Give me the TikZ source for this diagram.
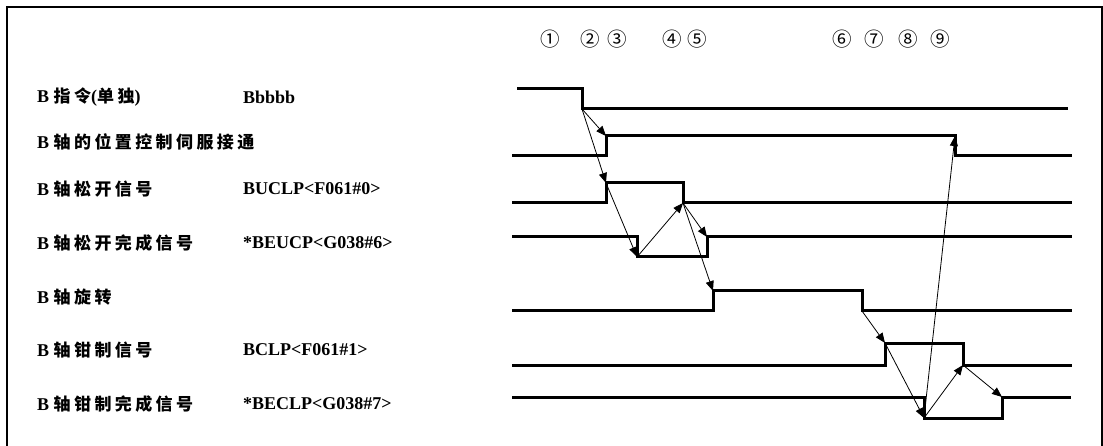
\documentclass[tikz,border=0pt]{standalone}
\usepackage{fontspec}
\setmainfont{Liberation Serif}
\newfontfamily\cjk[LetterSpace=20]{Noto Sans CJK SC}
\newfontfamily\circfont{Noto Sans CJK SC}
\usetikzlibrary{arrows.meta}
\tikzset{
  frame/.style={line width=1.5pt},
  sig/.style={line width=3pt, line join=miter},
  cause/.style={line width=0.8pt, -{Triangle[length=10pt,width=8pt]}},
  lbl/.style={anchor=west, inner sep=0pt, font=\fontsize{18}{20}\selectfont\bfseries},
  num/.style={inner sep=0pt, font=\fontsize{19.5}{22}\selectfont\circfont},
}
\newcommand\cj[1]{{\fontsize{17}{19}\selectfont\cjk #1}}
\begin{document}
\begin{tikzpicture}[x=1pt,y=-1pt]
\useasboundingbox (0,0) rectangle (1103,446);
\draw[frame] (7,460) -- (7,7) -- (1102,7) -- (1102,460);

% circled step numbers
\node[num] (n1) at (550,39) {①};
\node[num] (n2) at (590,39) {②};
\node[num] (n3) at (617,39) {③};
\node[num] (n4) at (672,39) {④};
\node[num] (n5) at (697,39) {⑤};
\node[num] (n6) at (842,39) {⑥};
\node[num] (n7) at (874,39) {⑦};
\node[num] (n8) at (908,39) {⑧};
\node[num] (n9) at (940,39) {⑨};

% labels
\node[lbl] (l1) at (37,97) {B \cj{指令}(\cj{单独})};
\node[lbl] (c1) at (243,97) {Bbbbb};
\node[lbl] (l2) at (37,142) {B \cj{轴的位置控制伺服接通}};
\node[lbl] (l3) at (37,189) {B \cj{轴松开信号}};
\node[lbl] (c3) at (243,189) {BUCLP<F061\#0>};
\node[lbl] (l4) at (37,243) {B \cj{轴松开完成信号}};
\node[lbl] (c4) at (243,243) {*BEUCP<G038\#6>};
\node[lbl] (l5) at (37,297) {B \cj{轴旋转}};
\node[lbl] (l6) at (37,350) {B \cj{轴钳制信号}};
\node[lbl] (c6) at (243,350) {BCLP<F061\#1>};
\node[lbl] (l7) at (37,404) {B \cj{轴钳制完成信号}};
\node[lbl] (c7) at (243,404) {*BECLP<G038\#7>};

% edge coordinates
\coordinate (r1f) at (582,109);
\coordinate (r2r) at (606,136);
\coordinate (r2f) at (955,136);
\coordinate (r3r) at (606,183);
\coordinate (r3f) at (683,203);
\coordinate (r4f) at (637,257);
\coordinate (r4r) at (707,237);
\coordinate (r5r) at (713,291);
\coordinate (r5f) at (862,311);
\coordinate (r6r) at (885,343);
\coordinate (r6f) at (963,365);
\coordinate (r7f) at (924,418);
\coordinate (r7r) at (1002,397);

% waveforms
\draw[sig] (517,89) -- (582,89) -- (r1f) -- (1068,109);
\draw[sig] (512,156) -- (606,156) -- (r2r) -- (r2f) -- (955,156) -- (1072,156);
\draw[sig] (512,203) -- (606,203) -- (r3r) -- (683,183) -- (r3f) -- (1072,203);
\draw[sig] (512,237) -- (637,237) -- (r4f) -- (707,257) -- (r4r) -- (1072,237);
\draw[sig] (512,311) -- (713,311) -- (r5r) -- (862,291) -- (r5f) -- (1072,311);
\draw[sig] (512,365) -- (885,365) -- (r6r) -- (963,343) -- (r6f) -- (1072,365);
\draw[sig] (512,397) -- (924,397) -- (r7f) -- (1002,418) -- (r7r) -- (1071,397);

% causal arrows
\draw[cause] (r1f) -- (r2r);
\draw[cause] (r1f) -- (r3r);
\draw[cause] (r3r) -- (r4f);
\draw[cause] (r4f) -- (r3f);
\draw[cause] (r3f) -- (r4r);
\draw[cause] (r3f) -- (r5r);
\draw[cause] (r5f) -- (r6r);
\draw[cause] (r6r) -- (r7f);
\draw[cause] (r7f) -- (r6f);
\draw[cause] (r6f) -- (r7r);
\draw[cause] (r7f) -- (r2f);
\end{tikzpicture}
\end{document}
